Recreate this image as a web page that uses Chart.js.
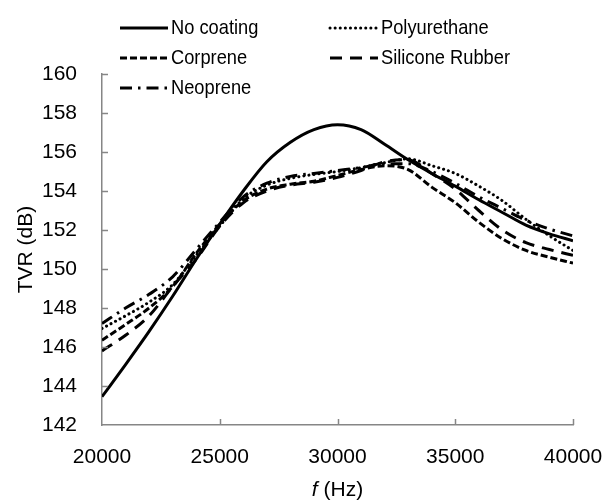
<!DOCTYPE html>
<html>
<head>
<meta charset="utf-8">
<script src="https://cdn.jsdelivr.net/npm/chart.js@4.4.1/dist/chart.umd.min.js"></script>
<style>
  html, body { margin: 0; padding: 0; background: #fff; }
  #wrap { width: 608px; height: 504px; }
</style>
</head>
<body>
<div id="wrap"><canvas id="tvrChart" width="608" height="504"></canvas></div>
<script>
// frequency (Hz) and TVR (dB)
const freqs = [20000, 21000, 22000, 23000, 24000, 25000, 26000, 27000, 28000, 29000, 30000,
               31000, 32000, 33000, 34000, 35000, 36000, 37000, 38000, 39000, 40000];
const noCoating    = [143.45, 145.1, 146.8, 148.6, 150.5, 152.3, 154.0, 155.5, 156.5, 157.15, 157.4,
                      157.15, 156.4, 155.6, 154.9, 154.25, 153.55, 152.9, 152.25, 151.8, 151.45];
const polyurethane = [146.95, 147.6, 148.3, 149.2, 150.7, 152.2, 153.6, 154.3, 154.65, 154.85, 155.0,
                      155.2, 155.45, 155.65, 155.3, 154.9, 154.25, 153.5, 152.55, 151.7, 150.95];
const corprene     = [146.35, 147.15, 148.0, 149.1, 150.8, 152.3, 153.5, 154.1, 154.35, 154.5, 154.8,
                      155.1, 155.3, 155.1, 154.2, 153.4, 152.4, 151.55, 150.95, 150.6, 150.3];
const silicone     = [145.8, 146.6, 147.6, 149.1, 150.5, 152.2, 153.4, 154.0, 154.3, 154.45, 154.7,
                      155.05, 155.5, 155.6, 154.9, 154.1, 153.0, 152.0, 151.35, 151.0, 150.7];
const neoprene     = [147.2, 148.0, 148.7, 149.6, 151.0, 152.4, 153.7, 154.4, 154.75, 154.9, 155.05,
                      155.2, 155.4, 155.4, 155.0, 154.4, 153.7, 153.1, 152.5, 152.05, 151.7];

const xTicks = [20000, 25000, 30000, 35000, 40000];
const yTicks = [142, 144, 146, 148, 150, 152, 154, 156, 158, 160];

const FONT = 'Liberation Sans, Arial, sans-serif';
const AXIS_GREY = '#868686';

const toPoints = vals => vals.map((v, i) => ({ x: freqs[i], y: v }));

function series(label, vals, dash, cap) {
    return {
        label: label,
        data: toPoints(vals),
        borderColor: '#000',
        borderWidth: 3,
        borderDash: dash,
        borderCapStyle: cap || 'butt',
        pointRadius: 0,
        fill: false,
        cubicInterpolationMode: 'monotone'
    };
}

// legend in two columns, drawn by hand like the original
const legendSpots = [
    { x: 120, y: 28 },  // No coating
    { x: 330, y: 28 },  // Polyurethane
    { x: 120, y: 58 },  // Corprene
    { x: 330, y: 58 },  // Silicone Rubber
    { x: 120, y: 88 }   // Neoprene
];

const customLegend = {
    id: 'customLegend',
    afterDraw(chart) {
        const ctx = chart.ctx;
        chart.data.datasets.forEach((ds, i) => {
            const p = legendSpots[i];
            ctx.save();
            ctx.beginPath();
            ctx.strokeStyle = ds.borderColor;
            ctx.lineWidth = ds.borderWidth;
            ctx.lineCap = ds.borderCapStyle;
            ctx.setLineDash(ds.borderDash);
            ctx.moveTo(p.x, p.y);
            ctx.lineTo(p.x + 48, p.y);
            ctx.stroke();
            ctx.setLineDash([]);
            // original legend font is a bit condensed
            ctx.translate(p.x + 51, p.y);
            ctx.scale(0.87, 1);
            ctx.fillStyle = '#000';
            ctx.font = '21px ' + FONT;
            ctx.textBaseline = 'middle';
            ctx.textAlign = 'left';
            ctx.fillText(ds.label, 0, 0);
            ctx.restore();
        });
    }
};

// inward tick marks + axis titles
const axisExtras = {
    id: 'axisExtras',
    afterDraw(chart) {
        const ctx = chart.ctx;
        const xs = chart.scales.x, ys = chart.scales.y;
        ctx.save();
        ctx.strokeStyle = AXIS_GREY;
        ctx.lineWidth = 1.5;
        ctx.beginPath();
        yTicks.slice(1).forEach(v => {
            const py = Math.round(ys.getPixelForValue(v)) + 0.5;
            ctx.moveTo(xs.left, py);
            ctx.lineTo(xs.left + 6, py);
        });
        xTicks.slice(1).forEach(v => {
            const px = Math.round(xs.getPixelForValue(v)) + 0.5;
            ctx.moveTo(px, ys.bottom);
            ctx.lineTo(px, ys.bottom - 6);
        });
        ctx.stroke();

        ctx.fillStyle = '#000';
        ctx.textBaseline = 'middle';
        // x title: italic f then (Hz)
        const cx = (xs.left + xs.right) / 2;
        ctx.font = 'italic 21px ' + FONT;
        const fW = ctx.measureText('f').width;
        ctx.font = '21px ' + FONT;
        const restW = ctx.measureText(' (Hz)').width;
        let sx = cx - (fW + restW) / 2;
        ctx.textAlign = 'left';
        ctx.font = 'italic 21px ' + FONT;
        ctx.fillText('f', sx, 490);
        ctx.font = '21px ' + FONT;
        ctx.fillText(' (Hz)', sx + fW, 490);

        // y title
        ctx.translate(26, (ys.top + ys.bottom) / 2);
        ctx.rotate(-Math.PI / 2);
        ctx.textAlign = 'center';
        ctx.fillText('TVR (dB)', 0, 0);
        ctx.restore();
    }
};

const ctx = document.getElementById('tvrChart').getContext('2d');
new Chart(ctx, {
    type: 'line',
    data: {
        datasets: [
            series('No coating', noCoating, []),
            series('Polyurethane', polyurethane, [0.1, 5], 'round'),
            series('Corprene', corprene, [7, 3]),
            series('Silicone Rubber', silicone, [12, 8]),
            series('Neoprene', neoprene, [12, 6, 2.5, 6])
        ]
    },
    options: {
        responsive: false,
        animation: false,
        layout: { padding: { left: 0, right: 35, top: 74, bottom: 0 } },
        plugins: {
            legend: { display: false },
            tooltip: { enabled: false }
        },
        scales: {
            x: {
                type: 'linear',
                min: 20000,
                max: 40000,
                afterBuildTicks: s => { s.ticks = xTicks.map(v => ({ value: v })); },
                afterFit: s => { s.height = 79; s.paddingLeft = 0; s.paddingRight = 0; },
                grid: { display: true, drawOnChartArea: false, drawTicks: false },
                border: { display: true, color: AXIS_GREY, width: 1.5 },
                ticks: {
                    color: '#000',
                    padding: 20,
                    maxRotation: 0,
                    font: { family: FONT, size: 21 },
                    callback: v => String(v)
                }
            },
            y: {
                min: 142,
                max: 160,
                afterBuildTicks: s => { s.ticks = yTicks.map(v => ({ value: v })); },
                afterFit: s => { s.width = 102; },
                grid: { display: true, drawOnChartArea: false, drawTicks: false },
                border: { display: true, color: AXIS_GREY, width: 1.5 },
                ticks: {
                    color: '#000',
                    padding: 25,
                    font: { family: FONT, size: 21 },
                    callback: v => String(v)
                }
            }
        }
    },
    plugins: [customLegend, axisExtras]
});
</script>
</body>
</html>
